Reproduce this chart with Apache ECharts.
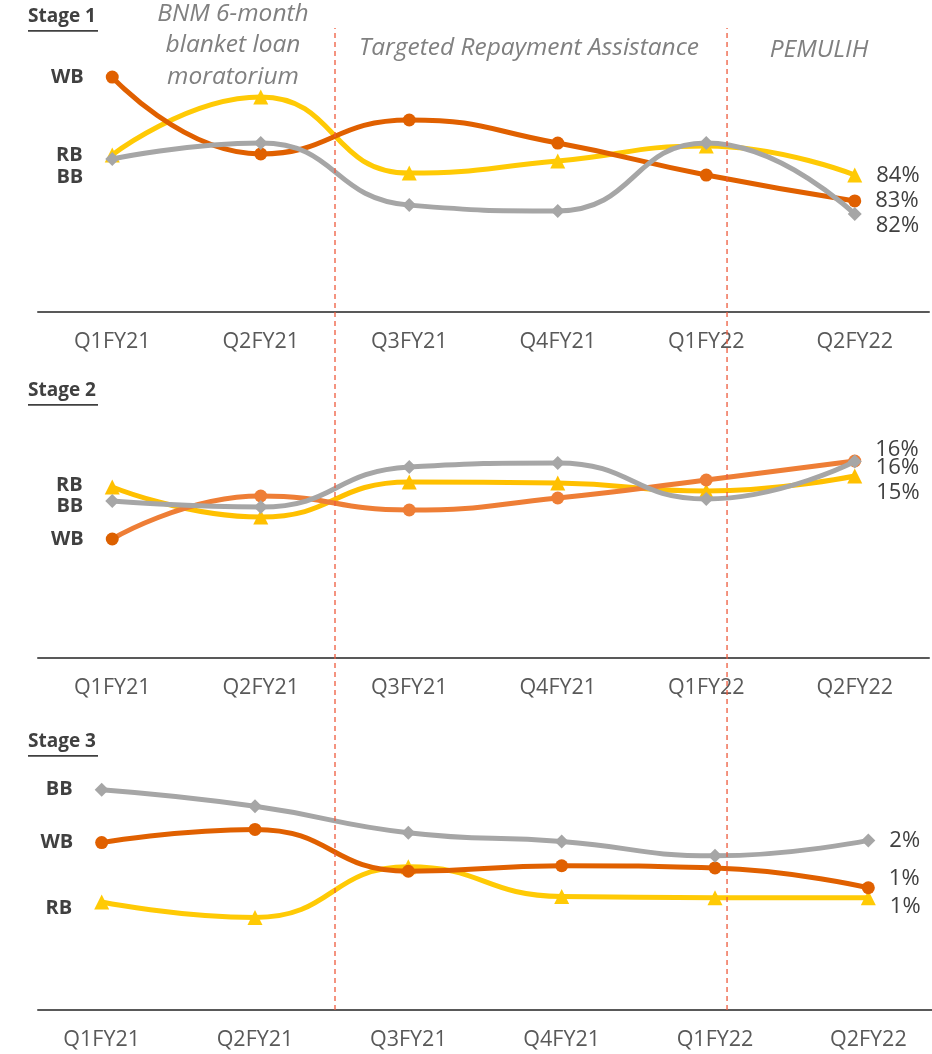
<!DOCTYPE html>
<html>
<head>
<meta charset="utf-8">
<script src="https://cdn.jsdelivr.net/npm/echarts@6/dist/echarts.min.js"></script>
<style>
  html, body { margin: 0; padding: 0; background: #ffffff; }
  #chart { width: 932px; height: 1054px; }
</style>
</head>
<body>
<div id="chart"></div>
<script>
// Quarters on the x axis
const quarters = ['Q1FY21', 'Q2FY21', 'Q3FY21', 'Q4FY21', 'Q1FY22', 'Q2FY22'];

// Stage 1 loans, share of book (%)
const stage1WB = [86.64, 84.24, 85.30, 84.58, 83.58, 82.77];
const stage1RB = [84.21, 86.02, 83.64, 84.02, 84.49, 83.58];
const stage1BB = [84.08, 84.58, 82.64, 82.46, 84.58, 82.36];

// Stage 2 loans, share of book (%)
const stage2WB = [12.88, 14.60, 14.04, 14.52, 15.24, 16.00];
const stage2RB = [14.96, 13.76, 15.16, 15.12, 14.80, 15.40];
const stage2BB = [14.40, 14.16, 15.76, 15.92, 14.48, 15.98];

// Stage 3 loans, share of book (%)
const stage3WB = [1.68, 1.80, 1.42, 1.47, 1.45, 1.27];
const stage3RB = [1.14, 1.00, 1.46, 1.19, 1.18, 1.18];
const stage3BB = [2.16, 2.01, 1.77, 1.69, 1.56, 1.70];

// Relief programme boundaries, in category units (0 = Q1FY21)
const phaseBreaks = [1.5, 4.14];

const FONT = '"Open Sans", "Noto Sans", sans-serif';
const DARK = '#404040';
const AXIS_GREY = '#595959';

const chart = echarts.init(document.getElementById('chart'), null, { renderer: 'canvas' });

// One line series with the segment name on its first point and the rounded value on its last
function segmentLine(opts) {
  const last = opts.values.length - 1;
  return {
    type: 'line',
    name: opts.name,
    xAxisIndex: opts.grid,
    yAxisIndex: opts.grid,
    smooth: 0.5,
    symbol: opts.symbol,
    symbolSize: opts.symbolSize,
    z: opts.z,
    lineStyle: { color: opts.color, width: 5 },
    itemStyle: { color: opts.color },
    emphasis: { disabled: true },
    data: opts.values.map(function (v, i) {
      if (i === 0) {
        const item = {
          value: v,
          label: {
            show: true, position: 'left', distance: 22,
            offset: opts.leftOffset || [0, 0],
            formatter: opts.name,
            fontFamily: FONT, fontSize: 20, fontWeight: 'bold', color: DARK
          }
        };
        if (opts.firstColor) item.itemStyle = { color: opts.firstColor };
        return item;
      }
      if (i === last) {
        return {
          value: v,
          label: {
            show: true, position: 'right', distance: 14,
            offset: opts.rightOffset || [0, 0],
            formatter: function (p) { return Math.round(p.value) + '%'; },
            fontFamily: FONT, fontSize: 22, color: DARK
          }
        };
      }
      return v;
    })
  };
}

function categoryAxis(grid, showLine, showLabels) {
  return {
    type: 'category', gridIndex: grid, data: quarters, boundaryGap: true,
    axisLine: { show: showLine, onZero: false, lineStyle: { color: AXIS_GREY, width: 2 } },
    axisTick: { show: false },
    axisLabel: { show: showLabels, margin: 19, fontFamily: FONT, fontSize: 21.5, color: AXIS_GREY },
    splitLine: { show: false }
  };
}

function hiddenValueAxis(grid, min, max) {
  return {
    type: 'value', gridIndex: grid, min: min, max: max,
    show: false, splitLine: { show: false }
  };
}

// Dashed programme boundary lines spanning all three panels
const breakSeries = phaseBreaks.map(function (b) {
  return {
    type: 'line', xAxisIndex: 4, yAxisIndex: 4, z: 10,
    symbol: 'none', silent: true,
    lineStyle: { color: '#EE5A3C', width: 1.3, type: [5, 4] },
    data: [[b, 0], [b, 1]]
  };
});

function stageTitle(text, top) {
  return {
    type: 'group', left: 28, top: top,
    children: [
      { type: 'text', x: 0, y: 0, style: { text: text, font: 'bold 19px ' + FONT, fill: DARK } },
      { type: 'rect', shape: { x: 0, y: 23, width: 70, height: 1.8 }, style: { fill: DARK } }
    ]
  };
}

function noteText(text, cx, cy) {
  return {
    type: 'text', x: cx, y: cy,
    style: {
      text: text, font: 'italic 24.5px ' + FONT, fill: '#808080',
      textAlign: 'center', textVerticalAlign: 'middle'
    }
  };
}

const option = {
  backgroundColor: '#ffffff',
  animation: false,
  grid: [
    { left: 38, width: 891, top: 24, height: 288, outerBoundsMode: 'none' },
    { left: 38, width: 891, top: 400, height: 258, outerBoundsMode: 'none' },
    { left: 25, width: 920, top: 760, height: 250, outerBoundsMode: 'none' },
    { left: 38, right: 0, top: 1009, height: 1, outerBoundsMode: 'none' },
    { left: 38, width: 891, top: 28, height: 982, outerBoundsMode: 'none' }
  ],
  xAxis: [
    categoryAxis(0, true, true),
    categoryAxis(1, true, true),
    categoryAxis(2, false, true),
    categoryAxis(3, true, false),
    { type: 'value', gridIndex: 4, min: -0.5, max: 5.5, show: false, splitLine: { show: false } }
  ],
  yAxis: [
    hiddenValueAxis(0, 79.3, 88.3),
    hiddenValueAxis(1, 8.12, 18.44),
    hiddenValueAxis(2, 0.16, 2.43),
    hiddenValueAxis(3, 0, 1),
    hiddenValueAxis(4, 0, 1)
  ],
  series: [
    // Stage 1
    segmentLine({ name: 'RB', values: stage1RB, grid: 0, symbol: 'triangle', symbolSize: 15, color: '#FFCA05', z: 2, rightOffset: [0, 1] }),
    segmentLine({ name: 'WB', values: stage1WB, grid: 0, symbol: 'circle', symbolSize: 13, color: '#E06000', z: 3 }),
    segmentLine({ name: 'BB', values: stage1BB, grid: 0, symbol: 'diamond', symbolSize: 14, color: '#A6A6A6', z: 4, leftOffset: [0, 18], rightOffset: [0, 12] }),
    // Stage 2
    segmentLine({ name: 'RB', values: stage2RB, grid: 1, symbol: 'triangle', symbolSize: 15, color: '#FFC000', z: 2, leftOffset: [0, -2], rightOffset: [0, 17] }),
    segmentLine({ name: 'WB', values: stage2WB, grid: 1, symbol: 'circle', symbolSize: 13, color: '#EE7E36', firstColor: '#DC6000', z: 3, rightOffset: [0, -11] }),
    segmentLine({ name: 'BB', values: stage2BB, grid: 1, symbol: 'diamond', symbolSize: 14, color: '#A6A6A6', z: 4, leftOffset: [0, 5], rightOffset: [0, 6] }),
    // Stage 3
    segmentLine({ name: 'RB', values: stage3RB, grid: 2, symbol: 'triangle', symbolSize: 15, color: '#FFCA05', z: 2, leftOffset: [0, 6], rightOffset: [0, 9] }),
    segmentLine({ name: 'WB', values: stage3WB, grid: 2, symbol: 'circle', symbolSize: 13, color: '#E06000', z: 3, rightOffset: [0, -9] }),
    segmentLine({ name: 'BB', values: stage3BB, grid: 2, symbol: 'diamond', symbolSize: 14, color: '#A6A6A6', z: 4 })
  ].concat(breakSeries),
  graphic: [
    stageTitle('Stage 1', 7),
    stageTitle('Stage 2', 381),
    stageTitle('Stage 3', 732),
    noteText('BNM 6-month', 233, 14),
    noteText('blanket loan', 233, 45),
    noteText('moratorium', 233, 77),
    noteText('Targeted Repayment Assistance', 529, 48),
    noteText('PEMULIH', 819, 50)
  ]
};

chart.setOption(option);
</script>
</body>
</html>
